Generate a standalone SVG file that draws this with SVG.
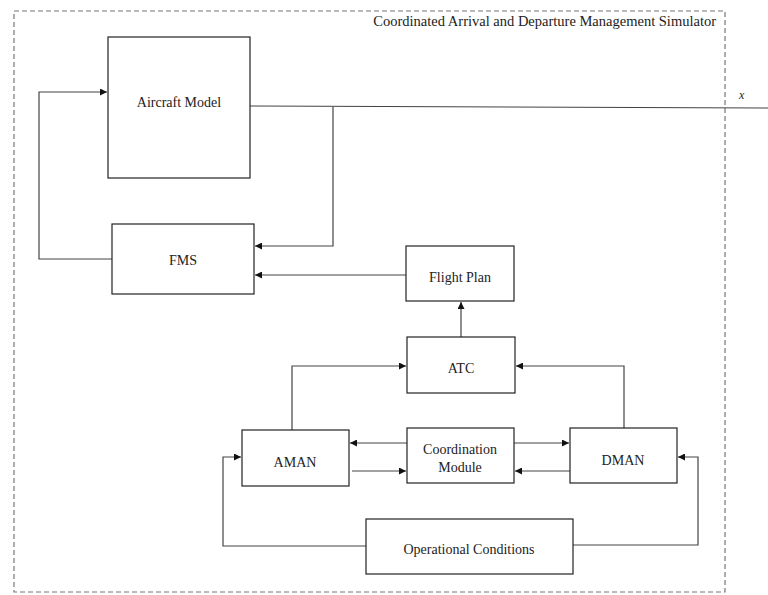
<svg xmlns="http://www.w3.org/2000/svg" width="768" height="595" viewBox="0 0 768 595">
  <style>
    .box { fill: #ffffff; stroke: #222222; stroke-width: 1.2; }
    .lbl { font-family: "Liberation Serif", "Times New Roman", serif; font-size: 14px; fill: #222222; text-anchor: middle; }
    .wire { fill: none; stroke: #444444; stroke-width: 1.2; }
    .frame { fill: none; stroke: #777777; stroke-width: 1.2; stroke-dasharray: 5 3; }
  </style>
  <defs>
    <marker id="arrow" viewBox="0 0 10 10" refX="10" refY="5" markerWidth="7" markerHeight="7" orient="auto" markerUnits="userSpaceOnUse">
      <path d="M0,0 L10,5 L0,10 z" fill="#111111"/>
    </marker>
  </defs>
  <rect width="768" height="595" fill="#ffffff"/>

  <!-- simulator boundary -->
  <g id="simulator">
    <rect class="frame" x="14" y="11" width="711" height="581"/>
    <text class="lbl" x="716" y="26" style="text-anchor:end;font-size:14.5px">Coordinated Arrival and Departure Management Simulator</text>
  </g>

  <!-- connectors -->
  <g id="connectors">
    <!-- state output x -->
    <path class="wire" d="M250,106 L768,108"/>
    <text x="739" y="99" style="font-family:'Liberation Serif',serif;font-size:12px;font-style:italic;fill:#222">x</text>
    <!-- state feedback to FMS -->
    <path class="wire" d="M333,107 L333,246 L255,246" marker-end="url(#arrow)"/>
    <!-- FMS to aircraft model -->
    <path class="wire" d="M112,259 L39,259 L39,92 L107,92" marker-end="url(#arrow)"/>
    <!-- flight plan to FMS -->
    <path class="wire" d="M406,275 L255,275" marker-end="url(#arrow)"/>
    <!-- ATC to flight plan -->
    <path class="wire" d="M461,337 L461,302" marker-end="url(#arrow)"/>
    <!-- AMAN to ATC -->
    <path class="wire" d="M292,430 L292,366 L406,366" marker-end="url(#arrow)"/>
    <!-- DMAN to ATC -->
    <path class="wire" d="M624,428 L624,366 L516,366" marker-end="url(#arrow)"/>
    <!-- coordination module exchanges -->
    <path class="wire" d="M407,443 L350,443" marker-end="url(#arrow)"/>
    <path class="wire" d="M352,471 L406,471" marker-end="url(#arrow)"/>
    <path class="wire" d="M514,443 L569,443" marker-end="url(#arrow)"/>
    <path class="wire" d="M570,471 L515,471" marker-end="url(#arrow)"/>
    <!-- operational conditions -->
    <path class="wire" d="M366,546 L223,546 L223,457 L241,457" marker-end="url(#arrow)"/>
    <path class="wire" d="M573,545 L698,545 L698,457 L678,457" marker-end="url(#arrow)"/>
  </g>

  <g id="aircraft-model">
    <rect class="box" x="108" y="37" width="142" height="141"/>
    <text class="lbl" x="179" y="107">Aircraft Model</text>
  </g>
  <g id="fms">
    <rect class="box" x="112" y="224" width="142" height="70"/>
    <text class="lbl" x="183" y="265">FMS</text>
  </g>
  <g id="flight-plan">
    <rect class="box" x="406" y="246" width="108" height="55"/>
    <text class="lbl" x="460" y="282">Flight Plan</text>
  </g>
  <g id="atc">
    <rect class="box" x="407" y="337" width="108" height="56"/>
    <text class="lbl" x="461" y="373">ATC</text>
  </g>
  <g id="aman">
    <rect class="box" x="242" y="430" width="107" height="56"/>
    <text class="lbl" x="295" y="467">AMAN</text>
  </g>
  <g id="coordination-module">
    <rect class="box" x="407" y="428" width="107" height="55"/>
    <text class="lbl" x="460" y="454">Coordination</text>
    <text class="lbl" x="460" y="472">Module</text>
  </g>
  <g id="dman">
    <rect class="box" x="570" y="428" width="107" height="55"/>
    <text class="lbl" x="623" y="465">DMAN</text>
  </g>
  <g id="operational-conditions">
    <rect class="box" x="366" y="519" width="207" height="55"/>
    <text class="lbl" x="469" y="554">Operational Conditions</text>
  </g>
</svg>
